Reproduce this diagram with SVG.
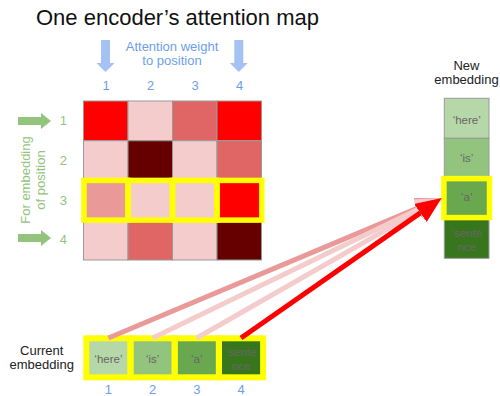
<svg xmlns="http://www.w3.org/2000/svg" width="500" height="396" viewBox="0 0 500 396">
  <defs>
    <style>
      text { font-family: "Liberation Sans", Arial, sans-serif; }
      .title { font-size: 22px; fill: #111; }
      .lbl { font-size: 13px; fill: #222; text-anchor: middle; }
      .blue { font-size: 13px; fill: #6d9eeb; text-anchor: middle; }
      .green { font-size: 13px; fill: #93c47d; text-anchor: middle; }
      .word { font-size: 11.5px; fill: #666; text-anchor: middle; }
      .cell { stroke: #999; stroke-width: 1; }
      .hl { fill: none; stroke: #ffff00; stroke-width: 5.5; }
      .box { stroke: #999; stroke-width: 1; }
      .c0 { fill: #f4cccc; } .c1 { fill: #ea9999; } .c2 { fill: #e06666; }
      .c3 { fill: #ff0000; } .c4 { fill: #660000; }
      .g1 { fill: #b6d7a8; } .g2 { fill: #93c47d; } .g3 { fill: #6aa84f; } .g4 { fill: #38761d; }
      .ln { fill: none; stroke-width: 5; }
    </style>
    <marker id="headRed" markerUnits="userSpaceOnUse" viewBox="0 -12 28 24" markerWidth="28" markerHeight="24" refX="0" refY="0" orient="auto">
      <path d="M0,-11 L26,0 L0,11 Z" fill="#ff0000"/>
    </marker>
    <marker id="headMid" markerUnits="userSpaceOnUse" viewBox="0 -12 28 24" markerWidth="28" markerHeight="24" refX="0" refY="0" orient="auto">
      <path d="M0,-11 L26,0 L0,11 Z" fill="#ea9999"/>
    </marker>
    <marker id="headPale" markerUnits="userSpaceOnUse" viewBox="0 -12 28 24" markerWidth="28" markerHeight="24" refX="0" refY="0" orient="auto">
      <path d="M0,-11 L26,0 L0,11 Z" fill="#f4cccc"/>
    </marker>
  </defs>

  <text class="title" x="36" y="25">One encoder’s attention map</text>

  <!-- column header -->
  <g id="col-header">
    <path d="M101,40 H110 V63 H114.5 L105.5,72 L96.5,63 H101 Z" fill="#a4c2f4"/>
    <path d="M234.3,40 H243.3 V63 H247.8 L238.8,72 L229.8,63 H234.3 Z" fill="#a4c2f4"/>
    <text class="blue" x="172" y="51">Attention weight</text>
    <text class="blue" x="172" y="65">to position</text>
    <text class="blue" x="106" y="90">1</text>
    <text class="blue" x="150.5" y="90">2</text>
    <text class="blue" x="195" y="90">3</text>
    <text class="blue" x="239.5" y="90">4</text>
  </g>

  <!-- row header -->
  <g id="row-header">
    <path d="M18,117 H41 V113 L51,121 L41,129 V125 H18 Z" fill="#93c47d"/>
    <path d="M18,234 H41 V230 L51,238 L41,246 V242 H18 Z" fill="#93c47d"/>
    <text class="green" transform="translate(30,180) rotate(-90)">For embedding</text>
    <text class="green" transform="translate(45,180) rotate(-90)">of position</text>
    <text class="green" x="63.3" y="125">1</text>
    <text class="green" x="63.3" y="165">2</text>
    <text class="green" x="63.3" y="204.5">3</text>
    <text class="green" x="63.3" y="244">4</text>
  </g>

  <!-- attention weight matrix -->
  <g id="matrix">
    <rect class="cell c3" x="83.5" y="101" width="44.5" height="39.75"/>
    <rect class="cell c0" x="128" y="101" width="44.5" height="39.75"/>
    <rect class="cell c2" x="172.5" y="101" width="44.5" height="39.75"/>
    <rect class="cell c3" x="217" y="101" width="44.5" height="39.75"/>

    <rect class="cell c0" x="83.5" y="140.75" width="44.5" height="39.75"/>
    <rect class="cell c4" x="128" y="140.75" width="44.5" height="39.75"/>
    <rect class="cell c0" x="172.5" y="140.75" width="44.5" height="39.75"/>
    <rect class="cell c2" x="217" y="140.75" width="44.5" height="39.75"/>

    <rect class="cell c1" x="83.5" y="180.5" width="44.5" height="39.75"/>
    <rect class="cell c0" x="128" y="180.5" width="44.5" height="39.75"/>
    <rect class="cell c0" x="172.5" y="180.5" width="44.5" height="39.75"/>
    <rect class="cell c3" x="217" y="180.5" width="44.5" height="39.75"/>

    <rect class="cell c0" x="83.5" y="220.25" width="44.5" height="39.75"/>
    <rect class="cell c2" x="128" y="220.25" width="44.5" height="39.75"/>
    <rect class="cell c0" x="172.5" y="220.25" width="44.5" height="39.75"/>
    <rect class="cell c4" x="217" y="220.25" width="44.5" height="39.75"/>

    <!-- highlighted row 3 -->
    <rect class="hl" x="84" y="180.4" width="44" height="39.7"/>
    <rect class="hl" x="128" y="180.4" width="44.5" height="39.7"/>
    <rect class="hl" x="172.5" y="180.4" width="44.5" height="39.7"/>
    <rect class="hl" x="217" y="180.4" width="44.8" height="39.7"/>
  </g>

  <!-- new embedding column -->
  <g id="new-embedding">
    <text class="lbl" x="466.5" y="70">New</text>
    <text class="lbl" x="466.5" y="84">embedding</text>
    <rect class="box g1" x="444.3" y="98.3" width="44.7" height="40"/>
    <rect class="box g2" x="444.3" y="138.3" width="44.7" height="40"/>
    <rect class="box g3" x="444.3" y="178.3" width="44.7" height="40"/>
    <rect class="box g4" x="444.3" y="218.3" width="44.7" height="40"/>
    <rect class="hl" x="443.9" y="178.6" width="45.6" height="39"/>
    <text class="word" x="466.7" y="123.5">‘here’</text>
    <text class="word" x="466.7" y="162">‘is’</text>
    <text class="word" x="466.7" y="200.5">‘a’</text>
    <text class="word" x="466.7" y="236.5">‘sente</text>
    <text class="word" x="466.7" y="250.5">nce</text>
  </g>

  <!-- current embedding row -->
  <g id="current-embedding">
    <text class="lbl" x="41.7" y="355">Current</text>
    <text class="lbl" x="41.7" y="369">embedding</text>
    <rect class="box g1" x="86.3" y="338.3" width="44.2" height="39"/>
    <rect class="box g2" x="130.5" y="338.3" width="44.2" height="39"/>
    <rect class="box g3" x="174.7" y="338.3" width="44.2" height="39"/>
    <rect class="box g4" x="218.9" y="338.3" width="44.2" height="39"/>
    <g class="hl" style="stroke-width:6">
      <rect x="86.3" y="338.3" width="44.2" height="39"/>
      <rect x="130.5" y="338.3" width="44.2" height="39"/>
      <rect x="174.7" y="338.3" width="44.2" height="39"/>
      <rect x="218.9" y="338.3" width="44.2" height="39"/>
    </g>
    <text class="word" x="108.4" y="363">‘here’</text>
    <text class="word" x="152.6" y="363">‘is’</text>
    <text class="word" x="196.8" y="363">‘a’</text>
    <text class="word" x="241" y="356">‘sente</text>
    <text class="word" x="241" y="369.5">nce</text>
    <text class="blue" x="108.4" y="393.5">1</text>
    <text class="blue" x="152.6" y="393.5">2</text>
    <text class="blue" x="196.8" y="393.5">3</text>
    <text class="blue" x="241" y="393.5">4</text>
  </g>

  <!-- weighted contributions into the new embedding -->
  <g id="connectors">
    <line class="ln" x1="108.4" y1="338" x2="417.7" y2="208.1" stroke="#ea9999" stroke-width="6" marker-end="url(#headMid)"/>
    <line class="ln" x1="152.6" y1="338" x2="418.3" y2="209.3" stroke="#f4cccc" marker-end="url(#headPale)"/>
    <line class="ln" x1="196.8" y1="338" x2="419.1" y2="210.9" stroke="#f4cccc" marker-end="url(#headPale)"/>
    <line class="ln" x1="241" y1="338" x2="420.4" y2="212.9" stroke="#ff0000" marker-end="url(#headRed)"/>
  </g>
</svg>
